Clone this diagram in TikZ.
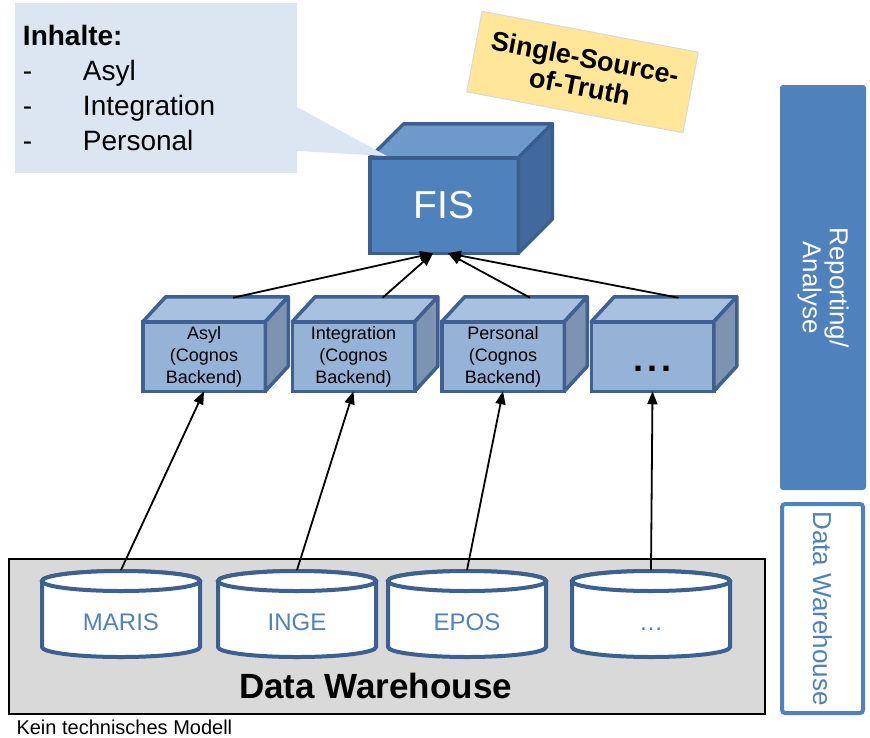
\documentclass[tikz,border=0pt]{standalone}
\usepackage{fontspec}
\setmainfont{Liberation Sans}
\usepackage{tikz}
\usetikzlibrary{arrows.meta}
\usetikzlibrary{calc}
\usetikzlibrary{shapes.callouts}
\definecolor{fisfront}{HTML}{4F81BD}
\definecolor{fistop}{HTML}{7099CB}
\definecolor{fisside}{HTML}{41699C}
\definecolor{fisline}{HTML}{3A5F8F}
\definecolor{cubefront}{HTML}{95B3D7}
\definecolor{cubetop}{HTML}{A9C1E0}
\definecolor{cubeside}{HTML}{7D93B2}
\definecolor{cubeline}{HTML}{3F6090}
\definecolor{calloutblue}{HTML}{DCE6F2}
\definecolor{notey}{HTML}{FFE699}
\definecolor{noteline}{HTML}{D9D9D9}
\definecolor{barblue}{HTML}{4F81BD}
\definecolor{dwgray}{HTML}{D9D9D9}
\definecolor{dbline}{HTML}{3C6190}
\tikzset{cube/.style = {draw=cubeline, fill=cubefront, line width=3.5pt, outer sep=0, inner sep=0,
    minimum width=122.5pt, minimum height=69.5pt, align=center, font=\fontsize{18}{22}\selectfont}}
\tikzset{link/.style = {line width=1.8pt, -{Triangle[length=13pt, width=10pt]}}}
\tikzset{db/.style = {draw=dbline, fill=white, line width=4pt}}
\tikzset{dblabel/.style = {text=barblue, font=\fontsize{24}{24}\selectfont, text height=17pt, text depth=0pt}}
\newcommand\cubefaces[5]{%
  \filldraw[fill=#3, draw=#5, line width=3.5pt, line join=round] (#1.north west) -- ($(#1.north west)+#2$) -- ($(#1.north east)+#2$) -- (#1.north east) -- cycle;
  \filldraw[fill=#4, draw=#5, line width=3.5pt, line join=round] (#1.north east) -- ($(#1.north east)+#2$) -- ($(#1.south east)+#2$) -- (#1.south east) -- cycle;
}
\begin{document}
\begin{tikzpicture}[x=1pt, y=-1pt]
    \useasboundingbox (0,0) rectangle (870,737);

    % right hand bars
    \node[fill=barblue, rounded corners=3pt, rotate=-90, minimum width=405pt, minimum height=86pt, align=center,
      text=white, font=\fontsize{26}{27}\selectfont] (rep) at (823,287.5) {Reporting/\\Analyse};
    \node[draw=barblue, fill=white, line width=4pt, rounded corners=3pt, rotate=-90, minimum width=209pt, minimum height=81pt,
      text=barblue, font=\fontsize{26}{27}\selectfont] (dwbar) at (822.5,608.5) {Data Warehouse};

    % data warehouse with its sources
    \node[draw, fill=dwgray, line width=1.5pt, minimum width=756pt, minimum height=155pt] (dwarea) at (387,636.5) {};
    \node[anchor=base, font=\fontsize{35}{35}\selectfont\bfseries] (dwlabel) at (375.5,698) {Data Warehouse};
    \foreach \cx/\name/\txt in {121/maris/MARIS, 297/inge/INGE, 467/epos/EPOS, 651/dbmore/\ldots} {
      \filldraw[db] (\cx-79,581) -- (\cx-79,647) arc [start angle=180, end angle=0, x radius=79, y radius=10]
        -- (\cx+79,581) arc [start angle=0, end angle=-180, x radius=79, y radius=10] -- cycle;
      \draw[db] (\cx,581) ellipse [x radius=79, y radius=10];
      \coordinate (\name top) at (\cx,570);
      \node[dblabel] (\name) at (\cx,622) {\txt};
    }
    \node[anchor=base west, font=\fontsize{20}{20}\selectfont] (note) at (13,734) {Kein technisches Modell};

    % cognos backends
    \node[cube] (asyl) at (204,356.5) {Asyl\\(Cognos\\Backend)};
    \cubefaces{asyl}{(23,-25)}{cubetop}{cubeside}{cubeline}
    \node[cube] (integ) at (353.5,356.5) {Integration\\(Cognos\\Backend)};
    \cubefaces{integ}{(23,-25)}{cubetop}{cubeside}{cubeline}
    \node[cube] (pers) at (503,356.5) {Personal\\(Cognos\\Backend)};
    \cubefaces{pers}{(23,-25)}{cubetop}{cubeside}{cubeline}
    \node[cube, font=\fontsize{36}{36}\selectfont\bfseries] (more) at (652.5,356.5)
      {\raisebox{-15pt}[0pt][0pt]{.\hspace{4pt}.\hspace{4pt}.}};
    \cubefaces{more}{(23,-25)}{cubetop}{cubeside}{cubeline}

    % FIS
    \node[draw=fisline, fill=fisfront, line width=3.5pt, outer sep=0, minimum width=148.5pt, minimum height=95.5pt,
      text=white, font=\fontsize{39}{39}\selectfont] (fis) at (444,205.5) {FIS};
    \cubefaces{fis}{(34,-34)}{fistop}{fisside}{fisline}

    \foreach \src/\dst in {maris/asyl, inge/integ, epos/pers, dbmore/more}
      \draw[link] (\src top) -- (\dst.south);
    \draw[link] ($(asyl.north)+(29,-24)$) -- ([xshift=-11pt]fis.south);
    \draw[link] ($(integ.north)+(29,-24)$) -- ([xshift=-11pt]fis.south);
    \draw[link] ($(pers.north)+(27,-24)$) -- ([xshift=4pt]fis.south);
    \draw[link] ($(more.north)+(26,-24)$) -- ([xshift=4pt]fis.south);

    % callout and note
    \node[rectangle callout, fill=calloutblue, callout absolute pointer={(387,156)}, callout pointer width=44pt,
      minimum width=282pt, minimum height=170pt, text width=266pt, inner xsep=8pt, align=left,
      font=\fontsize{28}{35}\selectfont] (inhalte) at (156,88)
      {\textbf{Inhalte:}\\\makebox[60pt][l]{-}Asyl\\\makebox[60pt][l]{-}Integration\\\makebox[60pt][l]{-}Personal};
    \node[fill=notey, draw=noteline, line width=1pt, rotate=-10.7, minimum width=220pt, minimum height=82pt,
      align=center, font=\fontsize{27}{29}\selectfont\bfseries] (sst) at (582.5,72) {Single-Source-\\of-Truth};
  \end{tikzpicture}
\end{document}
